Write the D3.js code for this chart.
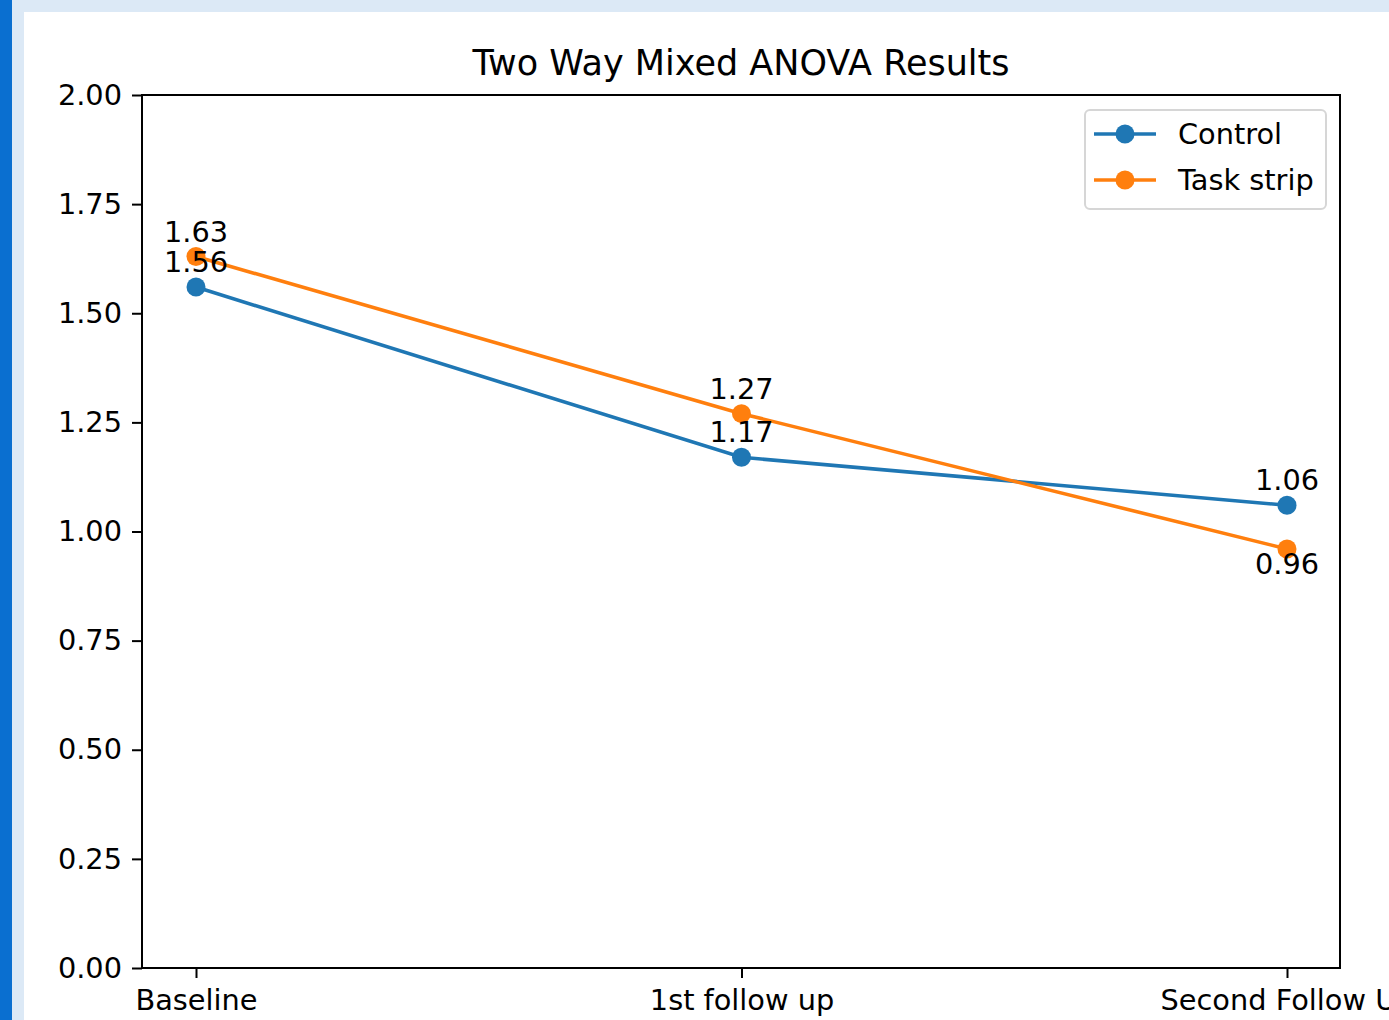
<!DOCTYPE html>
<html><head><meta charset="utf-8">
<script src="https://cdn.jsdelivr.net/npm/d3@7"></script>
<style>body{margin:0;background:#fff}svg{display:block}text{font-family:"DejaVu Sans",sans-serif;fill:#000}</style>
</head><body><svg id="c" width="1389" height="1020"></svg>
<script>
const categories = ["Baseline", "1st follow up", "Second Follow Up"];
const controlValues = [1.56, 1.17, 1.06];
const taskStripValues = [1.63, 1.27, 0.96];
const yTicks = [0, 0.25, 0.5, 0.75, 1.0, 1.25, 1.5, 1.75, 2.0];
const seriesNames = ["Control", "Task strip"];
const labelBelow = [[false,false,false],[false,false,true]];

const svg = d3.select("#c");
svg.append("rect").attr("x",0).attr("y",0).attr("width",1389).attr("height",1020).attr("fill","#dce9f6");
svg.append("rect").attr("x",0).attr("y",0).attr("width",12).attr("height",1020).attr("fill","#0a6fd0");
svg.append("rect").attr("x",24).attr("y",12).attr("width",1365).attr("height",1008).attr("fill","#fff");

const L=142,R=1340,T=95,B=968;
const x = d3.scalePoint().domain(categories).range([196,1287]);
const y = d3.scaleLinear().domain([0,2]).range([B,T]);

svg.append("text").attr("x",741).attr("y",75).attr("text-anchor","middle").style("font-size","35px").text("Two Way Mixed ANOVA Results");

const gy = svg.append("g").attr("transform",`translate(${L},0)`).call(d3.axisLeft(y).tickValues(yTicks).tickFormat(d3.format(".2f")).tickSize(10).tickPadding(10));
const gx = svg.append("g").attr("transform",`translate(0,${B})`).call(d3.axisBottom(x).tickSize(10).tickPadding(12));
[gx,gy].forEach(g=>{g.select(".domain").remove();g.selectAll(".tick line").attr("stroke","#000").attr("stroke-width",2);g.selectAll("text").style("font-size","28.8px").attr("fill","#000").attr("font-family","DejaVu Sans");});
svg.append("rect").attr("x",L).attr("y",T).attr("width",R-L).attr("height",B-T).attr("fill","none").attr("stroke","#000").attr("stroke-width",2);

const colors=["#1f77b4","#ff7f0e"];
const series=[controlValues,taskStripValues];
const line=d3.line().x((d,i)=>x(categories[i])).y(d=>y(d));
series.forEach((vals,s)=>{
  svg.append("path").datum(vals).attr("d",line).attr("fill","none").attr("stroke",colors[s]).attr("stroke-width",3.6);
  svg.selectAll(null).data(vals).enter().append("circle").attr("cx",(d,i)=>x(categories[i])).attr("cy",d=>y(d)).attr("r",9.5).attr("fill",colors[s]);
});
series.forEach((vals,s)=>{
  svg.selectAll(null).data(vals).enter().append("text").attr("x",(d,i)=>x(categories[i]))
    .attr("y",(d,i)=>labelBelow[s][i]? y(d)+25 : y(d)-15).attr("text-anchor","middle").style("font-size","28.8px")
    .text(d=>d.toFixed(2));
});

// legend
const lg=svg.append("g");
lg.append("rect").attr("x",1085).attr("y",110).attr("width",241).attr("height",99).attr("rx",5).attr("fill","#fff").attr("stroke","#d6d6d6").attr("stroke-width",2);
seriesNames.forEach((n,i)=>{
  const yy=134+i*46;
  lg.append("line").attr("x1",1094).attr("x2",1156).attr("y1",yy).attr("y2",yy).attr("stroke",colors[i]).attr("stroke-width",3.6);
  lg.append("circle").attr("cx",1125).attr("cy",yy).attr("r",9.5).attr("fill",colors[i]);
  lg.append("text").attr("x",1178).attr("y",yy+10).style("font-size","28.8px").text(n);
});
</script></body></html>
